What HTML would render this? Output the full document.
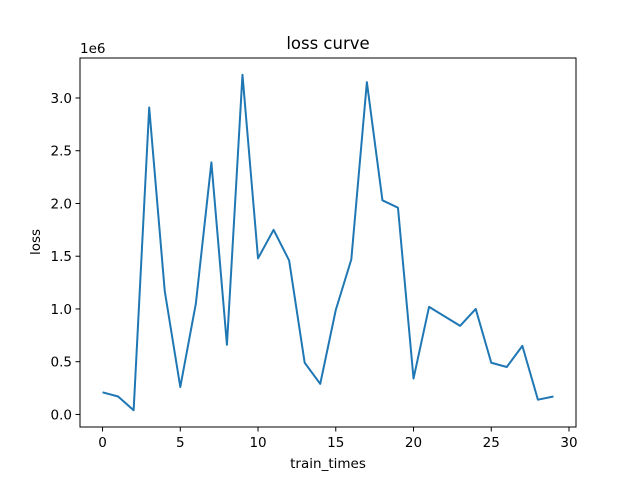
<!DOCTYPE html>
<html><head><meta charset="utf-8"><style>
body{margin:0;background:#fff}
svg text{font-family:"DejaVu Sans","Liberation Sans",sans-serif;fill:#000}
</style></head><body>
<svg id="chart" width="640" height="480" xmlns="http://www.w3.org/2000/svg">
<rect width="640" height="480" fill="#fff"/>
<text x="328" y="49" font-size="16.5" text-anchor="middle">loss curve</text>
<text x="328" y="468" font-size="13.5" text-anchor="middle">train_times</text>
<text transform="translate(40,242) rotate(-90)" font-size="13.5" text-anchor="middle">loss</text>
<text x="80" y="53" font-size="13.5">1e6</text>
<g id="ticks"></g>
<path id="line" fill="none" stroke="#1f77b4" stroke-width="2" stroke-linejoin="round"/>
<rect x="80" y="58" width="496" height="369" fill="none" stroke="#000" stroke-width="1"/>
</svg>
<script>
const losses = [0.21,0.17,0.04,2.91,1.17,0.26,1.05,2.39,0.66,3.22,1.48,1.75,1.46,0.49,0.29,0.99,1.47,3.15,2.03,1.96,0.34,1.02,0.93,0.84,1.00,0.49,0.45,0.65,0.14,0.17];
const xTicks = [0,5,10,15,20,25,30];
const yTicks = [0,0.5,1.0,1.5,2.0,2.5,3.0];
const yTickLabels = ["0.0","0.5","1.0","1.5","2.0","2.5","3.0"];

const L=80,R=576,T=58,B=427;
const n=losses.length;
const xmin=-(n-1)*0.05, xmax=(n-1)*1.05;
const lo=Math.min(...losses), hi=Math.max(...losses), pad=(hi-lo)*0.05;
const ymin=lo-pad, ymax=hi+pad;
const X=v=>L+(v-xmin)/(xmax-xmin)*(R-L);
const Y=v=>B-(v-ymin)/(ymax-ymin)*(B-T);
const NS="http://www.w3.org/2000/svg";
const g=document.getElementById('ticks');
function add(tag,attrs,text){const e=document.createElementNS(NS,tag);for(const k in attrs)e.setAttribute(k,attrs[k]);if(text!==undefined)e.textContent=text;g.appendChild(e);return e;}
xTicks.forEach(t=>{
  const x=X(t);
  const l=add('line',{x1:x,x2:x,y1:B,y2:B+4.5,stroke:'#000','stroke-width':1});
  
  
  const tx=add('text',{x:x,y:B+20,'font-size':13.5,'text-anchor':'middle'},String(t));
  
  
});
yTicks.forEach((t,i)=>{
  const y=Y(t);
  const l=add('line',{x1:L-4.5,x2:L,y1:y,y2:y,stroke:'#000','stroke-width':1});
  
  
  const tx=add('text',{x:L-8,y:y+5,'font-size':13.5,'text-anchor':'end'},yTickLabels[i]);
  
  
});
document.getElementById('line').setAttribute('d',losses.map((v,i)=>(i?'L':'M')+X(i).toFixed(2)+','+Y(v).toFixed(2)).join(''));
</script>
</body></html>
